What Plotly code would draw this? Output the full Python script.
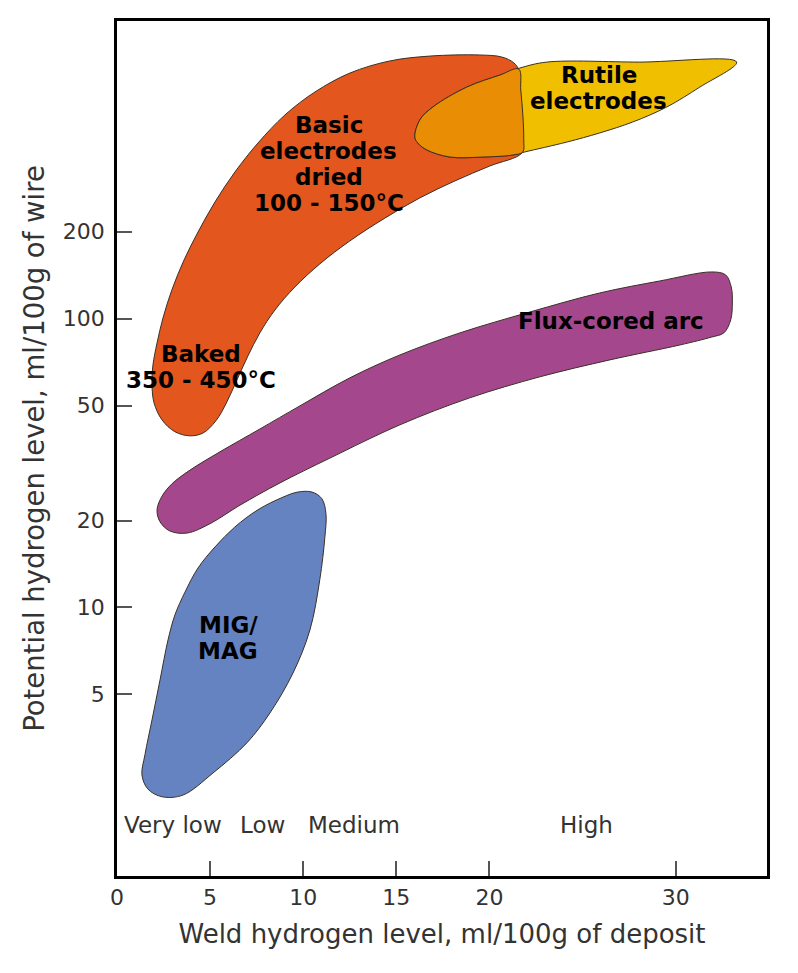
import numpy as np
import plotly.graph_objects as go

# Process regions: outline vertices (weld H, ml/100g deposit ; potential H, ml/100g wire)
basic_x = [21.74, 20.02, 18.14, 16.26, 14.38, 12.50, 10.89, 9.55, 8.48, 7.67, 7.03, 6.44,
           5.90, 5.31, 4.62, 3.92, 3.11, 2.42, 1.99, 1.88, 1.93, 2.15, 2.47, 2.95, 3.60,
           4.35, 5.26, 6.33, 7.57, 9.02, 10.63, 12.50, 14.65, 16.80, 19.48, 20.66, 21.31,
           21.63, 21.74, 21.84, 21.84, 21.74]
basic_y = [375, 338, 300, 262, 223, 185.9, 154.8, 128.8, 107.2, 89.3, 74.3, 61.4,
           51.5, 44.3, 40.2, 39.3, 40.6, 44.6, 51.1, 59.0, 69.1, 82.4, 100.6, 126, 159.7,
           199.6, 253.6, 322, 406, 508, 610, 709, 781, 812, 819, 806, 769,
           715, 619, 508, 416, 375]

rutile_x = [33.27, 31.29, 29.52, 27.69, 25.92, 24.15, 21.90, 21.25, 19.64, 17.87, 16.64,
            16.15, 15.99, 16.26, 16.96, 18.78, 20.56, 21.63, 23.08, 28.07, 33.27]
rutile_y = [774, 634, 541, 480, 440, 409, 378, 369, 363, 363, 384,
            406, 426, 488, 541, 634, 698, 738, 774, 774, 774]

# part of the rutile band lying inside the basic-electrode band
overlap_x = [21.57, 21.68, 21.79, 21.84, 21.79, 21.25, 19.64, 17.87, 16.64, 16.15, 15.99,
             16.26, 16.96, 18.78, 20.56, 21.57]
overlap_y = [732, 619, 508, 416, 378, 369, 363, 363, 384, 406, 426,
             488, 541, 634, 698, 732]

flux_x = [18.94, 15.19, 11.43, 8.75, 6.60, 4.99, 3.76, 2.84, 2.31, 2.15,
          2.42, 2.95, 3.92, 5.53, 7.67, 9.82, 12.50, 15.19, 18.41, 22.17, 25.92, 29.14,
          31.93, 32.68, 32.98, 33.04, 32.95, 32.58, 31.93, 30.22, 26.46, 22.70, 18.94]
flux_y = [53.2, 42.9, 32.9, 27.0, 22.6, 19.5, 18.1, 18.4, 19.8, 21.8,
          24.3, 26.8, 29.9, 34.6, 41.5, 49.9, 62.4, 74.9, 89.3, 105.5, 122.8, 135.1,
          145.2, 141.8, 128.8, 114.3, 99.0, 89.3, 86.4, 81.1, 72.0, 62.9, 53.2]

mig_x = [9.45, 10.36, 10.89, 11.16, 11.22, 11.00, 10.47, 9.71, 8.91, 7.57, 6.33, 5.26,
         4.35, 3.65, 3.11, 2.74, 2.31, 1.88, 1.50, 1.34, 1.66, 2.42, 3.54, 5.15, 6.98,
         8.21, 9.45]
mig_y = [5.93, 8.36, 12.5, 17.5, 21.1, 23.8, 25.1, 25.1, 24.1, 21.8, 19.0, 16.2,
         13.7, 11.3, 9.42, 7.72, 5.61, 4.08, 3.09, 2.63, 2.35, 2.21, 2.24, 2.67, 3.40,
         4.31, 5.93]

# Region labels (one entry per line) and their anchor points in data units
label_lines = [["Basic", "electrodes", "dried", "100 - 150°C"],
               ["Rutile", "electrodes"],
               ["Flux-cored arc"],
               ["Baked", "350 - 450°C"],
               ["MIG/", "MAG"]]
label_x = [11.38, 25.87, 26.51, 4.53, 5.96]
label_y = [343, 632, 98.2, 67.8, 7.85]

# Weld hydrogen classes along the x axis
class_names = ["Very low", "Low", "Medium", "High"]
class_x = [3.03, 7.81, 12.72, 25.2]

x_ticks = [0, 5, 10, 15, 20, 30]
y_ticks = [5, 10, 20, 50, 100, 200]

OUTLINE = "#3b3026"
regions = [
    (basic_x, basic_y, "#E3561D"),
    (flux_x, flux_y, "#A4478C"),
    (mig_x, mig_y, "#6583C1"),
    (rutile_x, rutile_y, "#F0C000"),
    (overlap_x, overlap_y, "#E98D05"),
]

fig = go.Figure()
for xs, ys, col in regions:
    fig.add_trace(go.Scatter(
        x=xs, y=ys, mode="lines", fill="toself", fillcolor=col,
        line=dict(color=OUTLINE, width=1, shape="spline", smoothing=1.0),
        hoverinfo="skip", showlegend=False))

LINE_GAP = 26
for lines, lx, ly in zip(label_lines, label_x, label_y):
    n = len(lines)
    for i, txt in enumerate(lines):
        fig.add_annotation(
            x=lx, y=np.log10(ly), xref="x", yref="y", text=txt, showarrow=False,
            xanchor="center", yanchor="middle",
            yshift=((n - 1) / 2 - i) * LINE_GAP,
            font=dict(family="DejaVu Sans", size=23, color="black", weight="bold"))

for name, cx in zip(class_names, class_x):
    fig.add_annotation(
        x=cx, y=0.245, xref="x", yref="y", text=name, showarrow=False,
        xanchor="center", yanchor="middle",
        font=dict(family="DejaVu Sans", size=23, color="#333333"))

axis_common = dict(
    showline=True, mirror=True, linecolor="black", linewidth=2.5,
    ticks="inside", ticklen=15, tickwidth=1.5, tickcolor="#555555",
    showgrid=False, zeroline=False,
    tickfont=dict(family="DejaVu Sans", size=22, color="#333333"),
)

fig.update_xaxes(
    range=[0, 34.9], tickvals=x_ticks, ticktext=[str(v) for v in x_ticks],
    title=dict(text="Weld hydrogen level, ml/100g of deposit", standoff=16,
               font=dict(family="DejaVu Sans", size=26, color="#333333")),
    **axis_common)
fig.update_yaxes(
    type="log", range=[0.070, 3.031], tickvals=y_ticks,
    ticktext=[str(v) for v in y_ticks], ticklabelstandoff=5,
    title=dict(text="Potential hydrogen level, ml/100g of wire", standoff=11,
               font=dict(family="DejaVu Sans", size=27.5, color="#333333")),
    **axis_common)

fig.update_layout(
    width=798, height=973,
    margin=dict(l=117, r=31, t=21, b=97),
    paper_bgcolor="white", plot_bgcolor="white",
    showlegend=False,
)

fig.write_html("out.html")
